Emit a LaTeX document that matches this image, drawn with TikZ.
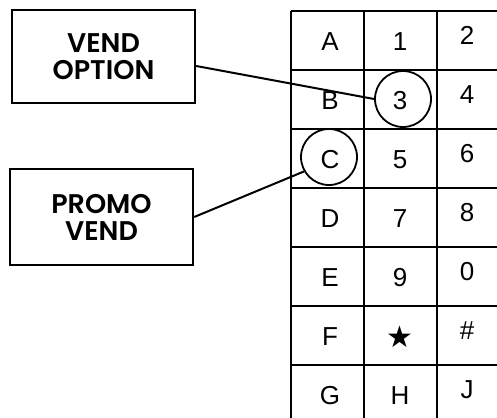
\documentclass[tikz,border=0pt]{standalone}
\usepackage{fontspec}
\setmainfont{Liberation Sans}
\newfontfamily\labelfont{Poppins}[BoldFont={* SemiBold}]
\newfontfamily\symfont{DejaVu Sans}
\usepackage{tikz}

\tikzset{
	box/.style={draw, line width=2.4pt, minimum width=183pt, align=center, font=\labelfont\bfseries\fontsize{27}{27}\selectfont},
	key/.style={inner sep=0pt, font=\fontsize{26}{26}\selectfont},
	ring/.style={circle, draw, line width=1.8pt, minimum size=56pt, inner sep=0pt}
}

\begin{document}
\begin{tikzpicture}[x=1pt, y=-1pt]
	\clip (0,0) rectangle (497,417);
	\foreach \r [evaluate=\r as \yy using 11+59*\r] in {0,...,7}
		\draw[line width=2.4pt] (291,\yy)--(512,\yy);
	\foreach \x in {291,364,437,510}
		\draw[line width=2.4pt] (\x,11)--(\x,426);

	\foreach \a/\b/\c [count=\r from 0, evaluate=\r as \yy using 41.5+59*\r] in {A/1/2, B/3/4, C/5/6, D/7/8, E/9/0, F/{\symfont\fontsize{30}{30}\selectfont ★}/\#, G/H/J}{
		\node[key] (k\r-a) at (330,\yy) {\a};
		\node[key] (k\r-b) at (400,\yy) {\b};
		\node[key] (k\r-c) at (467,\yy-6) {\c};
	}
	\node[ring] (ring3) at (403,99) {};
	\node[ring] (ringC) at (329,157) {};

	\node[box, minimum height=93pt] (vend) at (103.5,56.5) {VEND\\OPTION};
	\node[box, minimum height=96pt] (promo) at (101.5,217) {PROMO\\VEND};

	\draw[line width=2pt] ([yshift=-9.5pt]vend.east)--(ring3.west);
	\draw[line width=2pt] (promo.east)--(ringC.210);
\end{tikzpicture}
\end{document}
